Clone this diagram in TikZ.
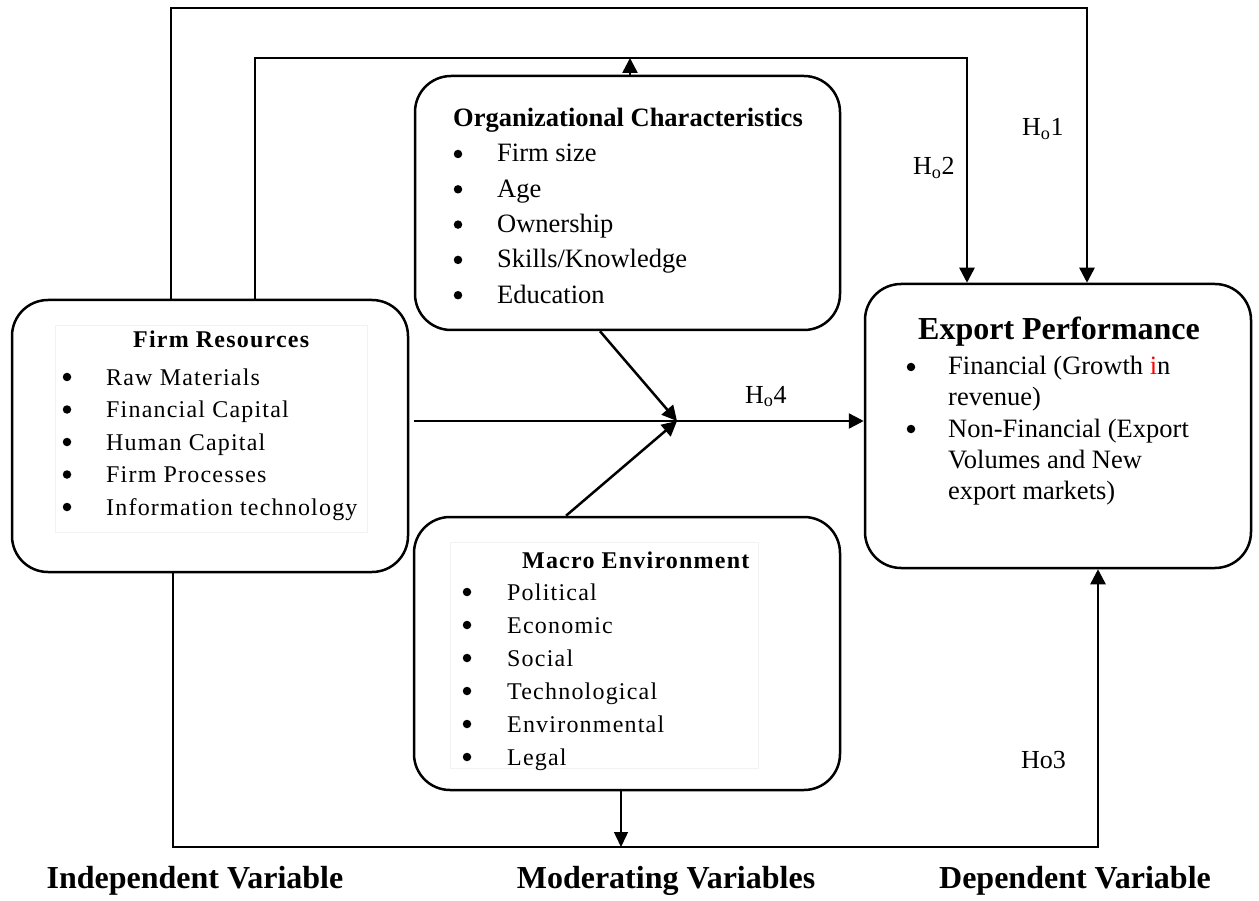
\documentclass[tikz,border=0pt]{standalone}
\usepackage{fontspec}
\setmainfont{Liberation Serif}
\newfontfamily\imgfont[LetterSpace=5]{Liberation Serif}
\usetikzlibrary{arrows.meta}
\begin{document}
\begin{tikzpicture}[x=1pt,y=-1pt,
  box/.style={draw, line width=2.5pt, rounded corners=36pt, inner sep=0pt},
  arr/.style={line width=2.5pt, -{Triangle[length=15pt,width=15pt]}},
  thinarr/.style={line width=1.4pt, -{Triangle[length=15pt,width=14pt]}},
  txt/.style={anchor=base west, inner sep=0pt, font=\fontsize{26.5}{30}\selectfont},
  ttl/.style={anchor=base west, inner sep=0pt, font=\fontsize{26.5}{30}\selectfont\bfseries},
  imgtxt/.style={anchor=base west, inner sep=0pt, font=\imgfont\fontsize{24}{28}\selectfont},
  imgttl/.style={anchor=base west, inner sep=0pt, font=\imgfont\fontsize{24}{28}\selectfont\bfseries},
  lbl/.style={anchor=base west, inner sep=0pt, font=\fontsize{26}{30}\selectfont},
  foot/.style={anchor=base, inner sep=0pt, font=\fontsize{32}{36}\selectfont\bfseries},
  dot/.style={circle, fill=black, inner sep=0pt, minimum size=8.5pt},
  faint/.style={draw=black!5, line width=0.6pt}
]
\useasboundingbox (0,0) rectangle (1259,901);

% boxes
\node[box, minimum width=396pt, minimum height=272pt] (fr) at (210,436) {};
\node[box, minimum width=425pt, minimum height=254pt] (oc) at (627.5,203) {};
\node[box, minimum width=426pt, minimum height=273pt] (me) at (627,653.5) {};
\node[box, minimum width=386pt, minimum height=284pt] (ep) at (1058,426) {};

% faint picture frames
\draw[faint] (55,325) rectangle (367,532);
\draw[faint] (450,542) rectangle (758,768);

% connectors
\coordinate (o1) at (171,8);
\coordinate (o2) at (1087,8);
\draw[arr] (fr.north -| o1) -- (o1) -- (o2) -- (ep.north -| o2);
\coordinate (i1) at (255,58);
\coordinate (i2) at (967,58);
\draw[arr] (fr.north -| i1) -- (i1) -- (i2) -- (ep.north -| i2);
\coordinate (up) at (630,58);
\draw[arr] (oc.north -| up) -- (up);
\coordinate (b1) at (173,847);
\coordinate (b2) at (1098,847);
\draw[arr] (fr.south -| b1) -- (b1) -- (b2) -- (ep.south -| b2);
\coordinate (bm) at (621,847);
\draw[thinarr] (me.south -| bm) -- (bm);
\coordinate (j) at (677,421);
\draw[arr] ([xshift=5pt]fr.east |- j) -- (ep.west |- j);
\coordinate (d1) at (600,0);
\coordinate (d2) at (566,0);
\draw[arr] (oc.south -| d1) -- (j);
\draw[arr] (me.north -| d2) -- (j);

% Firm Resources text
\node[imgttl] (frt) at (133,348) {Firm Resources};
\foreach \t [count=\i from 0] in {Raw Materials,Financial Capital,Human Capital,Firm Processes,Information technology}{
  \node[dot] (frb\i) at (67,377+32.5*\i) {};
  \node[imgtxt] (fri\i) at (106,385+32.5*\i) {\t};
}

% Organizational Characteristics text
\node[ttl] (oct) at (453,127) {Organizational Characteristics};
\foreach \t [count=\i from 0] in {Firm size,Age,Ownership,Skills/Knowledge,Education}{
  \node[dot] (ocb\i) at (458,154+35.3*\i) {};
  \node[txt] (oci\i) at (497,162+35.3*\i) {\t};
}

% Macro Environment text
\node[imgttl] (met) at (522,568) {Macro Environment};
\foreach \t [count=\i from 0] in {Political,Economic,Social,Technological,Environmental,Legal}{
  \node[dot] (meb\i) at (467,592+33*\i) {};
  \node[imgtxt] (mei\i) at (507,600+33*\i) {\t};
}

% Export Performance text
\node[anchor=base, inner sep=0pt, font=\fontsize{32}{36}\selectfont\bfseries] (ept) at (1059,340) {Export Performance};
\node[dot] (epb0) at (911,367) {};
\node[txt] (epl0) at (948,375) {Financial (Growth \textcolor{red}{i}n};
\node[txt] (epl1) at (948,406) {revenue)};
\node[dot] (epb1) at (911,429) {};
\node[txt] (epl2) at (948,437) {Non-Financial (Export};
\node[txt] (epl3) at (948,468) {Volumes and New};
\node[txt] (epl4) at (948,499) {export markets)};

% hypothesis labels
\node[lbl] (h1) at (1022,136) {H\textsubscript{o}1};
\node[lbl] (h2) at (913,175) {H\textsubscript{o}2};
\node[lbl] (h3) at (1021,768) {Ho3};
\node[lbl] (h4) at (745,403) {H\textsubscript{o}4};

% footer labels
\node[foot] (iv) at (195,888) {Independent Variable};
\node[foot] (mv) at (666,888) {Moderating Variables};
\node[foot] (dv) at (1075,888) {Dependent Variable};
\end{tikzpicture}
\end{document}
